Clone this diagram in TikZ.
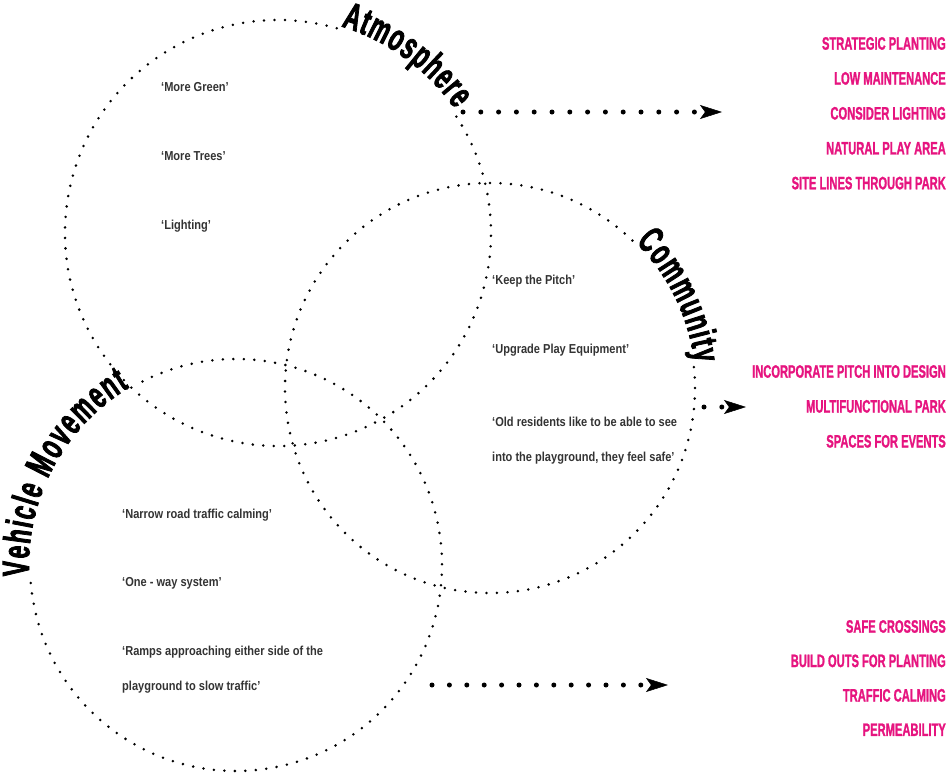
\documentclass[tikz,border=0pt]{standalone}
\usepackage{fontspec}
\usepackage{xcolor}
\usetikzlibrary{positioning,arrows.meta,decorations.text}

\newfontfamily\quotefont{Liberation Sans}[FakeStretch=0.85,UprightFont={* Bold}]
\newfontfamily\pinkfont{Liberation Sans}[FakeStretch=0.62,FakeBold=1.2,UprightFont={* Bold}]
\newfontfamily\bannerfont{Liberation Sans}[FakeStretch=0.6,FakeBold=2,UprightFont={* Bold}]
\definecolor{hotpink}{HTML}{E6147F}
\definecolor{quotegrey}{HTML}{333333}
\newcommand{\bannerstyle}{\bannerfont\fontsize{38}{44}\selectfont}

\begin{document}
\begin{tikzpicture}
		[x=1pt,y=1pt,
		ring/.style={line width=2.8pt,line cap=round,dash pattern=on 0pt off 10.5pt},
		flow/.style={line width=5pt,line cap=round,dash pattern=on 0pt off 17.8pt,
			-{Stealth[length=22pt,width=14pt,inset=5pt,line width=0.5pt]}},
		quote/.style={anchor=base west,inner sep=0pt,text=quotegrey,
			font=\quotefont\fontsize{13}{15}\selectfont},
		action/.style={anchor=north east,inner sep=0pt,text height=13pt,text depth=0pt,text=hotpink,
			font=\pinkfont\fontsize{18}{20}\selectfont}]
		\useasboundingbox (0,0) rectangle (951,-774);

		\coordinate (atm) at (278,-233);
		\coordinate (com) at (490,-388);
		\coordinate (veh) at (236,-565);

		% the three rings, broken where the titles sit
		\draw [ring] (atm) ++(74:213) arc[start angle=74,end angle=394,radius=213];
		\draw [ring] (com) ++(46:205) arc[start angle=46,end angle=366,radius=205];
		\draw [ring] (veh) ++(185:206) arc[start angle=185,end angle=479,radius=206];

		\path [decorate,decoration={text along path,text align=fit to path,text={|\bannerstyle|Atmosphere}}]
			(atm) ++(73:216) arc[start angle=73,end angle=35,radius=216];
		\path [decorate,decoration={text along path,text align=fit to path,text={|\bannerstyle|Community}}]
			(com) ++(45:206) arc[start angle=45,end angle=7,radius=206];
		\path [decorate,decoration={text along path,text align=fit to path,text={|\bannerstyle|Vehicle Movement}}]
			(veh) ++(183:207) arc[start angle=183,end angle=121,radius=207];

		\node [quote] (green) at (161,-91.5) {‘More Green’};
		\node [quote] (trees) at (161,-160.5) {‘More Trees’};
		\node [quote] (light) at (161,-229.5) {‘Lighting’};

		\node [quote] (pitch) at (492,-284) {‘Keep the Pitch’};
		\node [quote] (equip) at (492,-353) {‘Upgrade Play Equipment’};
		\node [quote] (old1) at (492,-426) {‘Old residents like to be able to see};
		\node [quote] (old2) at (492,-461.5) {into the playground, they feel safe’};

		\node [quote] (narrow) at (122,-518) {‘Narrow road traffic calming’};
		\node [quote] (oneway) at (122,-586) {‘One - way system’};
		\node [quote] (ramps1) at (122,-655) {‘Ramps approaching either side of the};
		\node [quote] (ramps2) at (122,-690) {playground to slow traffic’};

		\node [action] (plant) at (946,-36.5) {STRATEGIC PLANTING};
		\node [action,below=21.5pt of plant.south east,anchor=north east] (maint) {LOW MAINTENANCE};
		\node [action,below=21.5pt of maint.south east,anchor=north east] (lighting) {CONSIDER LIGHTING};
		\node [action,below=21.5pt of lighting.south east,anchor=north east] (natural) {NATURAL PLAY AREA};
		\node [action,below=21.5pt of natural.south east,anchor=north east] (site) {SITE LINES THROUGH PARK};

		\node [action] (incorp) at (946,-364.5) {INCORPORATE PITCH INTO DESIGN};
		\node [action,below=21.5pt of incorp.south east,anchor=north east] (multi) {MULTIFUNCTIONAL PARK};
		\node [action,below=21.5pt of multi.south east,anchor=north east] (events) {SPACES FOR EVENTS};

		\node [action] (safe) at (946,-619.5) {SAFE CROSSINGS};
		\node [action,below=21pt of safe.south east,anchor=north east] (buildout) {BUILD OUTS FOR PLANTING};
		\node [action,below=21pt of buildout.south east,anchor=north east] (calming) {TRAFFIC CALMING};
		\node [action,below=21pt of calming.south east,anchor=north east] (perm) {PERMEABILITY};

		\coordinate (atm-out) at (463,-112);
		\coordinate (atm-tip) at (722,-112);
		\coordinate (com-out) at (704,-407);
		\coordinate (com-tip) at (746,-407);
		\coordinate (veh-out) at (432,-685);
		\coordinate (veh-tip) at (668,-685);

		\draw [flow] (atm-out) -- (atm-tip);
		\draw [flow] (com-out) -- (com-tip);
		\draw [flow,dash pattern=on 0pt off 17.4pt] (veh-out) -- (veh-tip);

	\end{tikzpicture}
\end{document}
